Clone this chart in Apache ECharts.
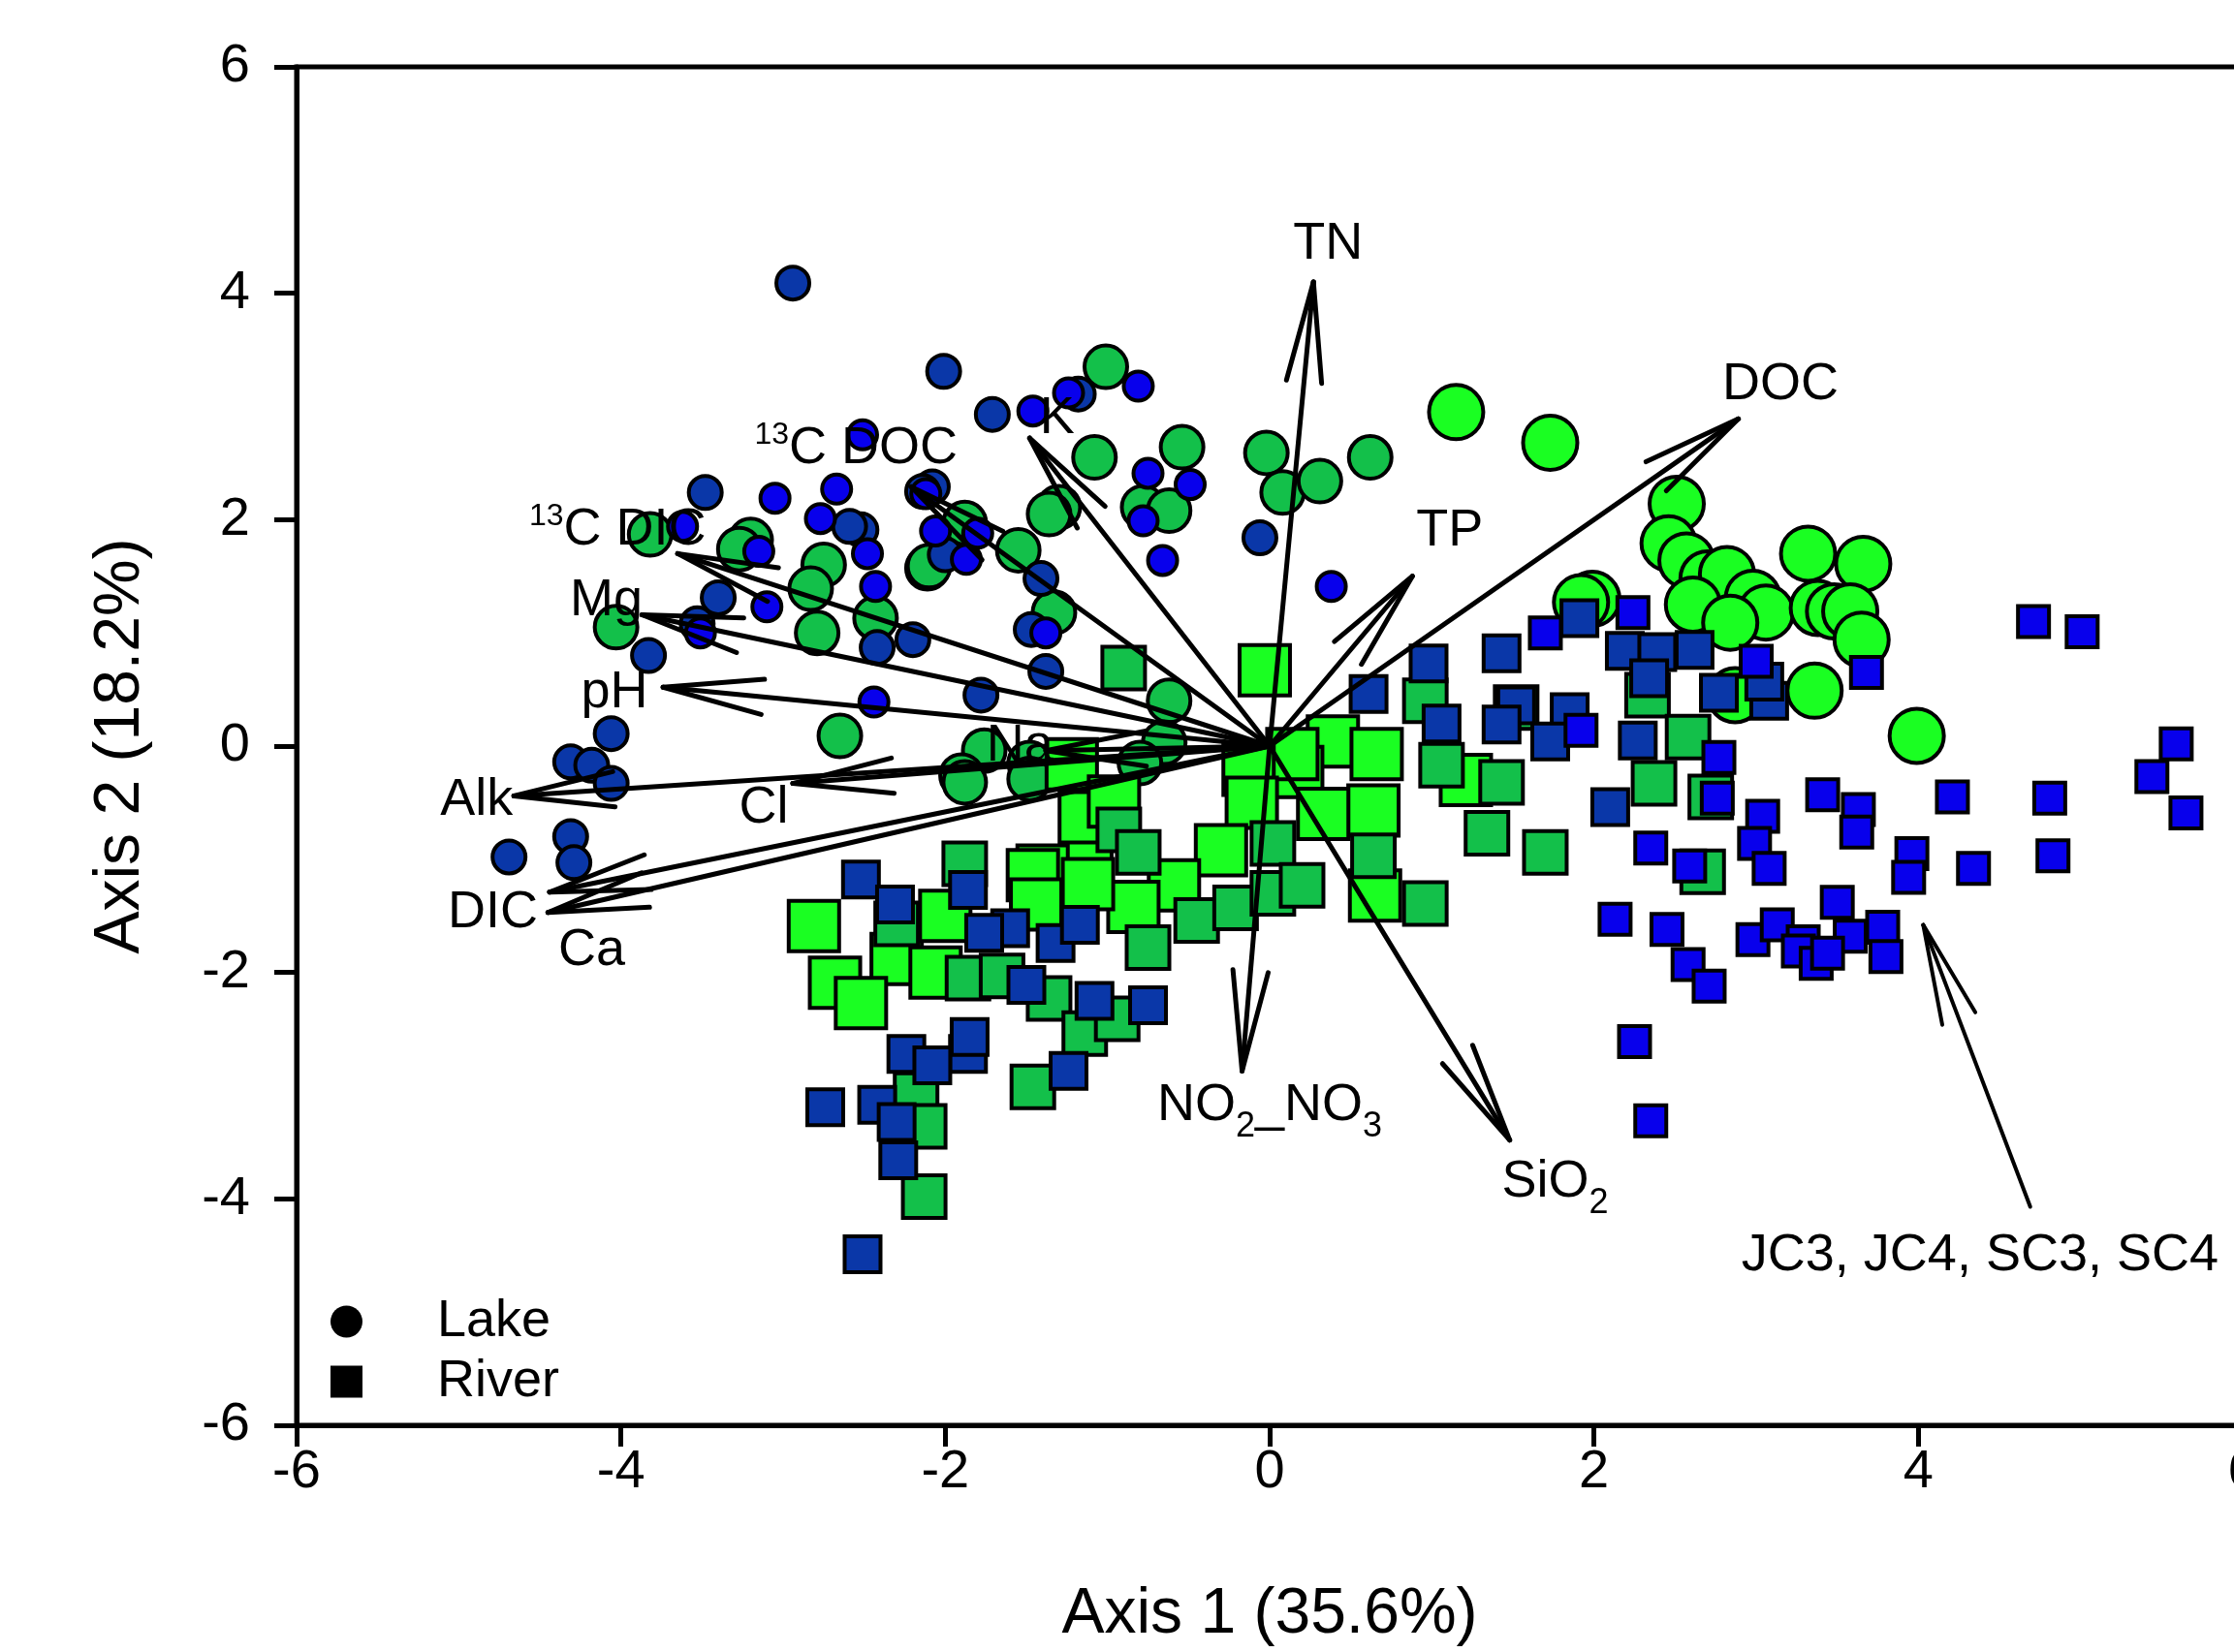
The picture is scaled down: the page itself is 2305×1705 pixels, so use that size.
<!DOCTYPE html>
<html>
<head>
<meta charset="utf-8">
<script src="https://cdn.jsdelivr.net/npm/echarts@6/dist/echarts.min.js"></script>
<style>
html, body { margin: 0; padding: 0; background: #fff; }
#chart { width: 2305px; height: 1705px; }
</style>
</head>
<body>
<div id="chart"></div>
<script>
// axis range
var axisMin = -6, axisMax = 6, axisStep = 2;

// Lake sites (circles)
var lakeBrightGreen = [[1.15,2.95],[1.73,2.68],[2.51,2.14],[2.46,1.79],[2.57,1.64],[2.70,1.48],[2.82,1.52],[2.61,1.25],
	[2.98,1.31],[3.06,1.18],[2.84,1.09],[3.32,1.70],[3.66,1.61],[3.38,1.22],[3.48,1.19],[3.58,1.19],[3.65,0.94],
	[3.36,0.49],[2.87,0.45],[3.99,0.09],[1.99,1.30],[1.92,1.27]];
var lakeGreen = [[-1.01,3.35],[-1.08,2.55],[-0.54,2.64],[-0.78,2.11],[-0.62,2.08],[-0.02,2.59],[0.08,2.24],[0.31,2.34],
	[0.62,2.55],[-1.30,2.11],[-1.36,2.05],[-1.55,1.73],[-1.33,1.18],[-2.11,1.57],[-2.43,1.13],[-0.62,0.40],[-1.76,-0.04],
	[-1.90,-0.26],[-1.48,-0.15],[-0.65,0.03],[-2.65,0.09],[-3.82,1.87],[-3.20,1.82],[-3.27,1.74],[-2.75,1.60],[-2.83,1.39],
	[-2.79,1.00],[-4.03,1.05],[-2.10,1.59],[-1.88,1.97],[-1.88,-0.32],[-1.48,-0.29],[-0.80,-0.15]];
var lakeDarkBlue = [[-2.94,4.09],[-2.01,3.31],[-1.71,2.93],[-3.48,2.24],[-3.40,1.31],[-3.53,1.08],[-3.83,0.80],[-4.06,0.11],
	[-4.31,-0.14],[-4.18,-0.17],[-4.06,-0.33],[-4.69,-0.98],[-4.31,-0.80],[-4.29,-1.03],[-2.42,0.87],[-2.20,0.94],
	[-1.78,0.45],[-1.38,0.66],[-1.41,1.48],[-1.47,1.03],[-0.06,1.84],[-2.52,1.91],[-2.08,2.29],[-2.59,1.94],[-2.00,1.69],
	[-1.18,3.11],[-2.14,2.25]];
var lakeBrightBlue = [[-2.51,2.75],[-3.05,2.19],[-2.67,2.27],[-2.77,2.01],[-2.48,1.70],[-3.15,1.72],[-3.10,1.23],[-2.43,1.41],
	[-3.62,1.94],[-3.51,1.00],[-2.44,0.39],[-1.87,1.65],[-2.06,1.90],[-1.80,1.88],[-1.38,1.00],[-2.12,2.23],[-0.75,2.41],
	[-0.49,2.31],[-0.78,1.99],[-0.66,1.64],[-0.81,3.18],[-1.24,3.12],[-1.46,2.96],[0.38,1.41]];

// River sites (squares)
var riverBrightGreen = [[0.39,0.04],[0.66,-0.07],[0.17,-0.23],[0.64,-0.57],[0.33,-0.60],[0.65,-1.32],[1.21,-0.30],[-0.03,0.67],
	[0.14,-0.07],[-0.13,-0.21],[-0.11,-0.50],[-0.30,-0.92],[-0.59,-1.23],[-0.84,-1.42],[-1.13,-1.01],[-1.40,-1.10],
	[-2.30,-1.88],[-2.00,-1.50],[-1.46,-1.14],[-1.44,-1.40],[-1.12,-1.22],[-1.14,-0.63],[-2.06,-2.00],[-2.81,-1.59],
	[-2.68,-2.09],[-2.52,-2.27],[-1.22,-0.16],[-0.96,-0.49]];
var riverGreen = [[-0.93,-0.74],[-0.81,-0.94],[-0.45,-1.54],[-0.75,-1.78],[-0.21,-1.43],[0.02,-1.30],[0.02,-0.86],[-1.86,-2.05],
	[-1.65,-2.03],[-1.36,-2.23],[-1.14,-2.54],[-0.94,-2.41],[-1.46,-3.01],[-2.18,-3.08],[-2.13,-3.36],[-1.88,-1.04],
	[-2.30,-1.57],[0.20,-1.23],[0.64,-0.97],[0.96,-1.39],[0.96,0.40],[1.06,-0.17],[1.34,-0.77],[1.70,-0.94],[1.43,-0.32],
	[1.52,0.34],[2.33,0.45],[2.37,-0.33],[2.58,0.08],[2.72,-0.45],[2.67,-1.11],[-2.13,-3.98],[-0.90,0.69]];
var riverDarkBlue = [[0.61,0.46],[0.98,0.73],[1.06,0.20],[1.43,0.82],[1.91,1.13],[1.52,0.36],[1.43,0.19],[1.85,0.30],
	[1.73,0.04],[2.19,0.84],[2.39,0.83],[2.62,0.85],[2.34,0.60],[2.27,0.05],[2.10,-0.54],[2.77,0.47],[3.08,0.40],[3.05,0.57],
	[-2.52,-1.18],[-2.31,-1.40],[-1.86,-1.27],[-1.60,-1.61],[-1.76,-1.65],[-1.32,-1.74],[-1.17,-1.58],[-1.50,-2.11],
	[-1.08,-2.25],[-0.75,-2.29],[-1.24,-2.87],[-2.24,-2.72],[-1.86,-2.72],[-1.85,-2.57],[-2.08,-2.82],[-2.42,-3.17],
	[-2.30,-3.32],[-2.29,-3.66],[-2.74,-3.19],[-2.51,-4.49]];
var riverBrightBlue = [[4.71,1.10],[5.01,1.01],[2.24,1.18],[3.68,0.65],[3.00,0.75],[5.59,0.02],[5.44,-0.27],[5.65,-0.59],
	[4.21,-0.45],[4.81,-0.46],[3.41,-0.43],[3.63,-0.56],[3.62,-0.76],[3.04,-0.62],[2.99,-0.86],[2.35,-0.90],[3.96,-0.95],
	[3.94,-1.16],[4.34,-1.08],[4.83,-0.97],[2.77,-0.10],[2.76,-0.46],[3.08,-1.08],[2.59,-1.06],[2.13,-1.53],[2.45,-1.62],
	[2.58,-1.93],[2.71,-2.12],[2.25,-2.61],[2.35,-3.31],[2.98,-1.71],[3.13,-1.58],[3.29,-1.73],[3.26,-1.81],[3.37,-1.92],
	[3.50,-1.38],[3.58,-1.68],[3.78,-1.60],[3.80,-1.86],[3.44,-1.83],[1.70,1.00],[1.92,0.14]];

// biplot vectors (tips, from origin) and their labels
var vectorTips = [[0.27,4.10],[0.88,1.50],[2.89,2.89],[-1.48,2.72],[-2.21,2.29],[-3.65,1.70],[-3.87,1.16],[-3.74,0.52],
	[-1.38,-0.04],[-4.66,-0.44],[-2.94,-0.33],[-4.45,-1.47],[-4.44,-1.29],[-0.17,-2.87],[1.48,-3.48]];
var labelPos = [[0.36,4.43],[1.11,1.90],[3.15,3.19],[-1.31,2.89],[-2.55,2.63],[-4.02,1.91],[-4.09,1.28],[-4.04,0.47],
	[-1.54,0.0],[-4.89,-0.48],[-3.12,-0.55],[-4.79,-1.47],[-4.18,-1.81],[0.0,-3.18],[1.76,-3.85],[4.38,-4.50]];
var labelText = ['{m|TN}','{m|TP}','{m|DOC}','{m|K}','{sup|13}{m|C DOC}','{sup|13}{m|C DIC}','{m|Mg}','{m|pH}',
	'{m|Na}','{m|Alk}','{m|Cl}','{m|DIC}','{m|Ca}','{b|NO}{sub|2}{b|_NO}{sub|3}','{b|SiO}{sub|2}','{m|JC3, JC4, SC3, SC4}'];
// annotation arrow (tail -> tip)
var noteArrow = [[4.69,-4.07,4.03,-1.58]];

var FONT = "'Liberation Sans', Arial, sans-serif";

function arrowRenderer(width) {
	return function (params, api) {
		var p0 = api.coord([api.value(0), api.value(1)]);
		var p1 = api.coord([api.value(2), api.value(3)]);
		var ang = Math.atan2(p0[1] - p1[1], p0[0] - p1[0]);
		var L = 105, a = 10 * Math.PI / 180;
		var st = { stroke: '#000', lineWidth: width, lineCap: 'round' };
		return {
			type: 'group',
			children: [
				{ type: 'line', shape: { x1: p0[0], y1: p0[1], x2: p1[0], y2: p1[1] }, style: st },
				{ type: 'line', shape: { x1: p1[0], y1: p1[1], x2: p1[0] + L * Math.cos(ang + a), y2: p1[1] + L * Math.sin(ang + a) }, style: st },
				{ type: 'line', shape: { x1: p1[0], y1: p1[1], x2: p1[0] + L * Math.cos(ang - a), y2: p1[1] + L * Math.sin(ang - a) }, style: st }
			]
		};
	};
}

function pts(name, data, symbol, size, color) {
	return {
		name: name,
		type: 'scatter',
		data: data,
		symbol: symbol,
		symbolSize: size,
		silent: true,
		z: 2,
		itemStyle: { color: color, borderColor: '#000', borderWidth: 4, opacity: 1 }
	};
}

var vectorData = vectorTips.map(function (t) { return [0, 0, t[0], t[1]]; });
var labelData = labelPos.map(function (p, i) { return { name: labelText[i], value: p }; });

// plain black text, no halo
function txt(size, lh, extra) {
	var s = { fontFamily: FONT, fontSize: size, lineHeight: lh, color: '#000', textBorderWidth: 0, textShadowBlur: 0 };
	if (extra) s.verticalAlign = extra;
	return s;
}

var option = {
	animation: false,
	backgroundColor: '#fff',
	textStyle: { fontFamily: FONT, color: '#000' },
	grid: {
		left: 306, top: 69, right: -9, bottom: 234,
		show: true, borderColor: '#000', borderWidth: 5,
		containLabel: false, outerBoundsMode: 'none'
	},
	legend: {
		orient: 'vertical',
		left: 336, top: 1332,
		itemWidth: 33, itemHeight: 33, itemGap: 8,
		itemStyle: { color: '#000', borderWidth: 0, opacity: 1 },
		data: [
			{ name: 'Lake', icon: 'circle', itemStyle: { color: '#000', opacity: 1 } },
			{ name: 'River', icon: 'rect', itemStyle: { color: '#000', opacity: 1 } }
		],
		textStyle: { fontFamily: FONT, fontSize: 54, lineHeight: 54, color: '#000', padding: [0, 0, 0, 72] }
	},
	xAxis: {
		type: 'value', min: axisMin, max: axisMax, interval: axisStep,
		name: 'Axis 1 (35.6%)', nameLocation: 'middle', nameGap: 163,
		nameTextStyle: { fontFamily: FONT, fontSize: 66, color: '#000' },
		axisLine: { show: true, onZero: false, lineStyle: { color: '#000', width: 5 } },
		axisTick: { show: true, inside: false, length: 22, lineStyle: { color: '#000', width: 5 } },
		axisLabel: { fontFamily: FONT, fontSize: 56, color: '#000', margin: 21 },
		splitLine: { show: false }
	},
	yAxis: {
		type: 'value', min: axisMin, max: axisMax, interval: axisStep,
		name: 'Axis 2 (18.2%)', nameLocation: 'middle', nameGap: 148,
		nameTextStyle: { fontFamily: FONT, fontSize: 66, color: '#000' },
		axisLine: { show: true, onZero: false, lineStyle: { color: '#000', width: 5 } },
		axisTick: { show: true, inside: false, length: 23, lineStyle: { color: '#000', width: 5 } },
		axisLabel: { fontFamily: FONT, fontSize: 56, color: '#000', margin: 48 },
		splitLine: { show: false }
	},
	series: [
		pts('lakeBG', lakeBrightGreen, 'circle', 56, '#1aff22'),
		pts('lakeG', lakeGreen, 'circle', 44, '#13c04a'),
		pts('lakeDB', lakeDarkBlue, 'circle', 34, '#0a37a8'),
		pts('lakeBB', lakeBrightBlue, 'circle', 30, '#0800ec'),
		pts('riverBG', riverBrightGreen, 'rect', 52, '#1aff22'),
		pts('riverG', riverGreen, 'rect', 44, '#13c04a'),
		pts('riverDB', riverDarkBlue, 'rect', 37, '#0a37a8'),
		pts('riverBB', riverBrightBlue, 'rect', 32, '#0800ec'),
		{ name: 'Lake', type: 'scatter', data: [], symbol: 'circle', itemStyle: { color: '#000', opacity: 1 } },
		{ name: 'River', type: 'scatter', data: [], symbol: 'rect', itemStyle: { color: '#000', opacity: 1 } },
		{
			type: 'custom', silent: true, z: 5,
			renderItem: arrowRenderer(5),
			data: vectorData
		},
		{
			type: 'custom', silent: true, z: 5,
			renderItem: arrowRenderer(4),
			data: noteArrow
		},
		{
			type: 'scatter', silent: true, z: 6,
			symbolSize: 1,
			itemStyle: { color: 'transparent' },
			data: labelData,
			label: {
				show: true, position: 'inside',
				color: '#000', textBorderWidth: 0, opacity: 1,
				formatter: function (p) { return p.name; },
				rich: {
					m: txt(54, 60),
					b: txt(54, 80),
					sup: txt(32, 32, 'top'),
					sub: txt(36, 36, 'bottom')
				}
			}
		}
	]
};

var myChart = echarts.init(document.getElementById('chart'));
myChart.setOption(option);
</script>
</body>
</html>
